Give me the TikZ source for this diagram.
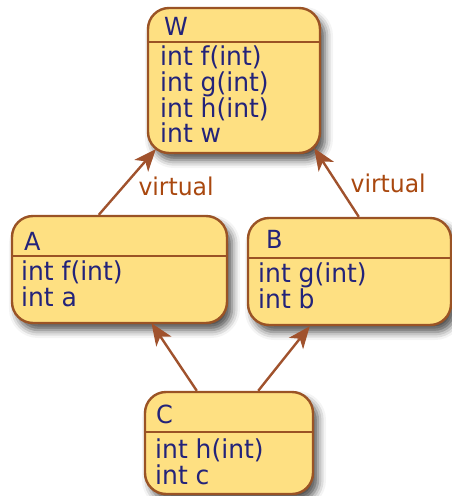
\documentclass[tikz,border=0pt]{standalone}
\usepackage{fontspec}
\usepackage{graphicx}
\setmainfont{DejaVu Sans}
\usetikzlibrary{arrows.meta,shadows.blur}

\begin{document}
\begin{tikzpicture}[x=1pt, y=-1pt]
  % Colors
  \definecolor{boxfill}{HTML}{FEE082}
  \definecolor{boxline}{HTML}{9A5325}
  \definecolor{ink}{HTML}{23237A}
  \definecolor{link}{HTML}{A0522D}
  \definecolor{tag}{HTML}{A9480F}

  % Configurations
  \tikzset{
    classbox/.style={draw=boxline, fill=boxfill, line width=2.4pt,
      rounded corners=21pt, inner sep=0pt,
      blur shadow={shadow xshift=5pt, shadow yshift=-7pt,
        shadow blur radius=8pt, shadow opacity=70}},
    divider/.style={draw=boxline, line width=2.4pt},
    classname/.style={anchor=base west, inner sep=0pt, text=ink,
      font=\fontsize{24}{24}\selectfont},
    member/.style={anchor=base west, inner sep=0pt, text=ink,
      font=\fontsize{25}{25}\selectfont},
    inherit/.style={draw=link, line width=2.4pt,
      -{Stealth[length=22pt, width=18pt, inset=6pt]}},
    virt/.style={inner sep=0pt, text=tag, anchor=west,
      font=\fontsize{23.5}{23.5}\selectfont}
  }
  \newcommand{\tall}[1]{\scalebox{1}[1.04]{#1}}

  % Bounding box
  \useasboundingbox (0,0) rectangle (452,496);

  % W
  \node [classbox, minimum width=172pt, minimum height=145pt] (W) at (234,80.5) {};
  \draw [divider] ([yshift=-35pt]W.north west) -- ([yshift=-35pt]W.north east);
  \node [classname] (W-name) at (164,35) {\tall{W}};
  \foreach \txt/\yy [count=\i from 0] in {int f(int)/65, int g(int)/91, int h(int)/117, int w/142}
    \node [member] (W-\i) at (160,\yy) {\tall{\txt}};

  % A
  \node [classbox, minimum width=215pt, minimum height=107pt] (A) at (119.5,269.5) {};
  \draw [divider] ([yshift=-41pt]A.north west) -- ([yshift=-41pt]A.north east);
  \node [classname] (A-name) at (24,250) {\tall{A}};
  \foreach \txt [count=\i from 0] in {int f(int), int a}
    \node [member] (A-\i) at (21,280+26*\i) {\tall{\txt}};

  % B
  \node [classbox, minimum width=203pt, minimum height=107pt] (B) at (349.5,271.5) {};
  \draw [divider] ([yshift=-41pt]B.north west) -- ([yshift=-41pt]B.north east);
  \node [classname] (B-name) at (266,248) {\tall{B}};
  \foreach \txt [count=\i from 0] in {int g(int), int b}
    \node [member] (B-\i) at (258,282+26*\i) {\tall{\txt}};

  % C
  \node [classbox, minimum width=168pt, minimum height=102pt] (C) at (229,443) {};
  \draw [divider] ([yshift=-41pt]C.north west) -- ([yshift=-41pt]C.north east);
  \node [classname] (C-name) at (156,423) {\tall{C}};
  \foreach \txt [count=\i from 0] in {int h(int), int c}
    \node [member] (C-\i) at (155,458+26*\i) {\tall{\txt}};

  % Inheritance
  \draw [inherit] ([xshift=88pt]A.north west) -- ([xshift=9pt, yshift=5pt]W.south west)
    node [virt, pos=0.43, xshift=14pt] (A-virt) {\tall{virtual}};
  \draw [inherit] ([xshift=112pt]B.north west) -- ([xshift=-7pt, yshift=6pt]W.south east)
    node [virt, pos=0.48, xshift=12pt] (B-virt) {\tall{virtual}};
  \draw [inherit] ([xshift=53pt]C.north west) -- ([xshift=32pt, yshift=1pt]A.south);
  \draw [inherit] ([xshift=-56pt]C.north east) -- ([xshift=63pt]B.south west);
\end{tikzpicture}
\end{document}
